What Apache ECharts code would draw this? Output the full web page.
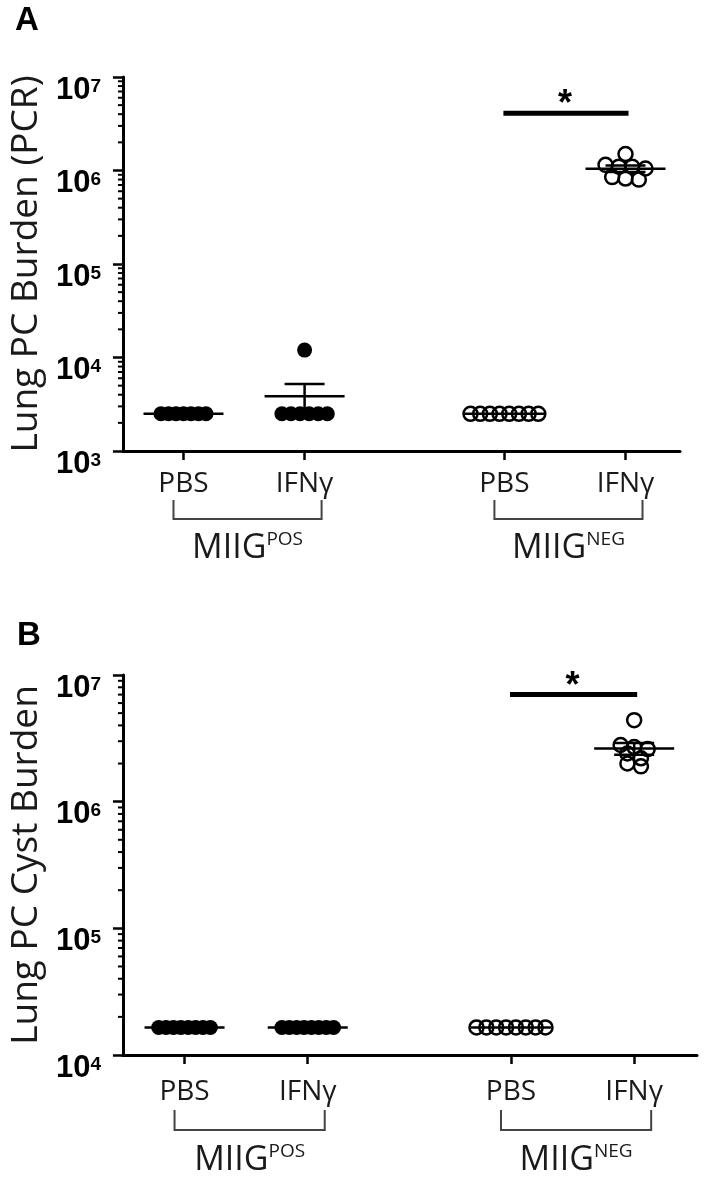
<!DOCTYPE html>
<html>
<head>
<meta charset="utf-8">
<script src="https://cdn.jsdelivr.net/npm/echarts@6/dist/echarts.min.js"></script>
<style>
  html, body { margin: 0; padding: 0; background: #fff; }
  #chart { width: 709px; height: 1179px; }
</style>
</head>
<body>
<div id="chart"></div>
<script>
// x axis groups
var treatments = ['PBS', 'IFNγ', 'PBS', 'IFNγ'];
var strains = ['POS', 'NEG'];

// panel A: lung PC burden (PCR)
var pcrPosPbs = [2500, 2500, 2500, 2500, 2500, 2500, 2500];
var pcrPosIfn = [12000, 2500, 2500, 2500, 2500, 2500, 2500];
var pcrNegPbs = [2500, 2500, 2500, 2500, 2500, 2500, 2500, 2500];
var pcrNegIfn = [1500000, 1150000, 1100000, 1100000, 1050000, 850000, 820000, 800000];
var pcrSig = [4100000];

// panel B: lung PC cyst burden
var cystPosPbs = [16500, 16500, 16500, 16500, 16500, 16500, 16500, 16500];
var cystPosIfn = [16500, 16500, 16500, 16500, 16500, 16500, 16500, 16500];
var cystNegPbs = [16500, 16500, 16500, 16500, 16500, 16500, 16500, 16500];
var cystNegIfn = [4400000, 2800000, 2700000, 2600000, 2400000, 2200000, 2000000, 1900000];
var cystSig = [7000000];

// where the four groups sit on the x axis
var slotX = [1, 2, 3.65, 4.65];

var chart = echarts.init(document.getElementById('chart'));

// points with (nearly) the same value are put side by side
function swarm(vals, cx, step) {
  var idx = vals.map(function (v, i) { return i; });
  idx.sort(function (a, b) { return vals[b] - vals[a]; });
  var rows = [];
  idx.forEach(function (i) {
    var r = rows[rows.length - 1];
    if (r && Math.log10(r.top / vals[i]) < 0.06) r.items.push(i);
    else rows.push({ top: vals[i], items: [i] });
  });
  var out = [];
  rows.forEach(function (r) {
    r.items.forEach(function (i, k) {
      out.push([cx + (k - (r.items.length - 1) / 2) * step, vals[i]]);
    });
  });
  return out;
}

function stats(vals) {
  var n = vals.length;
  var mean = vals.reduce(function (s, v) { return s + v; }, 0) / n;
  var ss = vals.reduce(function (s, v) { return s + (v - mean) * (v - mean); }, 0);
  var sem = n > 1 ? Math.sqrt(ss / (n - 1)) / Math.sqrt(n) : 0;
  if (sem < mean * 1e-9) sem = 0;
  return { mean: mean, sem: sem };
}

function dotSeries(k, vals, slot, hollow, step) {
  return {
    type: 'scatter', xAxisIndex: k, yAxisIndex: k, z: 3, silent: true,
    symbol: 'circle', symbolSize: hollow ? 14 : 15,
    itemStyle: hollow
      ? { color: 'rgba(0,0,0,0)', borderColor: '#000', borderWidth: 2.5, opacity: 1 }
      : { color: '#000', opacity: 1 },
    data: swarm(vals, slotX[slot], step)
  };
}

function meanSeries(k, groups) {
  return {
    type: 'custom', xAxisIndex: k, yAxisIndex: k, z: 4, silent: true, clip: false,
    data: groups.map(function (g, i) {
      var s = stats(g);
      return [slotX[i], s.mean, s.sem];
    }),
    renderItem: function (params, api) {
      var x = api.value(0), m = api.value(1), e = api.value(2);
      var c = api.coord([x, m]);
      var st = { stroke: '#000', lineWidth: 2.5 };
      var kids = [{ type: 'line', shape: { x1: c[0] - 40, y1: c[1], x2: c[0] + 40, y2: c[1] }, style: st }];
      if (e > 0) {
        var t = api.coord([x, m + e]);
        var b = api.coord([x, m - e]);
        kids.push({ type: 'line', shape: { x1: c[0], y1: b[1], x2: c[0], y2: t[1] }, style: st });
        kids.push({ type: 'line', shape: { x1: c[0] - 20, y1: t[1], x2: c[0] + 20, y2: t[1] }, style: st });
        kids.push({ type: 'line', shape: { x1: c[0] - 20, y1: b[1], x2: c[0] + 20, y2: b[1] }, style: st });
      }
      return { type: 'group', children: kids };
    }
  };
}

function sigSeries(k, y) {
  return {
    type: 'custom', xAxisIndex: k, yAxisIndex: k, z: 5, silent: true, clip: false,
    data: [[slotX[2], y, slotX[3]]],
    renderItem: function (params, api) {
      var a = api.coord([api.value(0), api.value(1)]);
      var b = api.coord([api.value(2), api.value(1)]);
      return {
        type: 'group',
        children: [
          { type: 'line', shape: { x1: a[0] - 1, y1: a[1], x2: b[0] + 3, y2: a[1] }, style: { stroke: '#000', lineWidth: 5 } },
          { type: 'text', style: { text: '*', x: (a[0] + b[0]) / 2, y: a[1] + 10, align: 'center', verticalAlign: 'bottom',
            font: 'bold 36px Arial, "Liberation Sans"', fill: '#000' } }
        ]
      };
    }
  };
}

function minorTickSeries(k, yMin, yMax) {
  var vals = [];
  for (var d = yMin; d < yMax; d *= 10) {
    for (var m = 2; m <= 9; m++) vals.push([slotX[0], d * m]);
  }
  return {
    type: 'custom', xAxisIndex: k, yAxisIndex: k, z: 6, silent: true, clip: false,
    data: vals,
    renderItem: function (params, api) {
      var c = api.coord([api.value(0), api.value(1)]);
      var x0 = params.coordSys.x;
      return { type: 'line', shape: { x1: x0 - 5, y1: c[1], x2: x0, y2: c[1] }, style: { stroke: '#000', lineWidth: 2 } };
    }
  };
}

function bracketSeries(k, yMin, off) {
  return {
    type: 'custom', xAxisIndex: k, yAxisIndex: k, z: 5, silent: true, clip: false,
    data: [[slotX[0], yMin, slotX[1], 0], [slotX[2], yMin, slotX[3], 1]],
    renderItem: function (params, api) {
      var a = api.coord([api.value(0), api.value(1)]);
      var b = api.coord([api.value(2), api.value(1)]);
      var xl = a[0] - 10, xr = b[0] + 17, y0 = a[1];
      return {
        type: 'group',
        children: [
          { type: 'polyline', shape: { points: [[xl, y0 + off[0]], [xl, y0 + off[1]], [xr, y0 + off[1]], [xr, y0 + off[0]]] },
            style: { stroke: '#444', lineWidth: 2, fill: null } },
          { type: 'text', style: {
              text: '{m|MIIG}{s|' + strains[api.value(3)] + '}',
              x: (xl + xr) / 2, y: y0 + off[2], align: 'center', verticalAlign: 'middle', fill: '#1a1a1a',
              rich: {
                m: { fontSize: 34, fontFamily: '"Open Sans"', lineHeight: 36, fill: '#1a1a1a' },
                s: { fontSize: 19, fontFamily: '"Open Sans"', lineHeight: 22, verticalAlign: 'top', fill: '#1a1a1a' }
              }
            } }
        ]
      };
    }
  };
}

function yAxis(k, yMin, yMax, name) {
  return {
    type: 'log', logBase: 10, gridIndex: k, min: yMin, max: yMax,
    name: name, nameLocation: 'middle', nameGap: 77,
    nameTextStyle: { fontSize: 37, fontFamily: '"Open Sans"', color: '#1a1a1a' },
    axisLine: { show: true, onZero: false, lineStyle: { color: '#000', width: 3 } },
    axisTick: { show: true, length: 10, lineStyle: { color: '#000', width: 2.5 } },
    splitLine: { show: false },
    axisLabel: {
      margin: 22, verticalAlign: 'top',
      formatter: function (v) { return '{b|10}{s|' + Math.round(Math.log10(v)) + '}'; },
      rich: {
        b: { fontSize: 31, fontWeight: 'bold', fontFamily: 'Arial, "Liberation Sans"', color: '#000', lineHeight: 26 },
        s: { fontSize: 19, fontWeight: 'bold', fontFamily: 'Arial, "Liberation Sans"', color: '#000', lineHeight: 18, verticalAlign: 'top' }
      }
    }
  };
}

function xAxis(k, xMax, margin) {
  return {
    type: 'value', gridIndex: k, min: 0.5, max: xMax,
    axisLine: { show: true, onZero: false, lineStyle: { color: '#000', width: 3 } },
    axisTick: { show: true, customValues: slotX, length: 9, lineStyle: { color: '#000', width: 2.5 } },
    splitLine: { show: false },
    axisLabel: {
      customValues: slotX, margin: margin,
      fontSize: 28, fontFamily: '"Open Sans"', color: '#1a1a1a',
      formatter: function (v) { return treatments[slotX.indexOf(v)]; }
    }
  };
}

var option = {
  animation: false,
  backgroundColor: '#fff',
  title: [
    { text: 'A', left: 10, top: -1, textStyle: { fontSize: 33, fontWeight: 'bold', fontFamily: 'Arial, "Liberation Sans"', color: '#000' } },
    { text: 'B', left: 12, top: 614, textStyle: { fontSize: 33, fontWeight: 'bold', fontFamily: 'Arial, "Liberation Sans"', color: '#000' } }
  ],
  grid: [
    { left: 122, top: 77, right: 29, height: 374 },
    { left: 122, top: 675, right: 12, height: 380 }
  ],
  xAxis: [xAxis(0, 5.1, 19), xAxis(1, 5.16, 23)],
  yAxis: [
    yAxis(0, 1e3, 1e7, 'Lung PC Burden (PCR)'),
    yAxis(1, 1e4, 1e7, 'Lung PC Cyst Burden')
  ],
  series: [
    dotSeries(0, pcrPosPbs, 0, false, 0.062),
    dotSeries(0, pcrPosIfn, 1, false, 0.075),
    dotSeries(0, pcrNegPbs, 2, true, 0.08),
    dotSeries(0, pcrNegIfn, 3, true, 0.11),
    meanSeries(0, [pcrPosPbs, pcrPosIfn, pcrNegPbs, pcrNegIfn]),
    sigSeries(0, pcrSig[0]),
    minorTickSeries(0, 1e3, 1e7),
    bracketSeries(0, 1e3, [49, 68, 97]),

    dotSeries(1, cystPosPbs, 0, false, 0.06),
    dotSeries(1, cystPosIfn, 1, false, 0.06),
    dotSeries(1, cystNegPbs, 2, true, 0.08),
    dotSeries(1, cystNegIfn, 3, true, 0.11),
    meanSeries(1, [cystPosPbs, cystPosIfn, cystNegPbs, cystNegIfn]),
    sigSeries(1, cystSig[0]),
    minorTickSeries(1, 1e4, 1e7),
    bracketSeries(1, 1e4, [55, 75, 105])
  ]
};

chart.setOption(option);
</script>
</body>
</html>
